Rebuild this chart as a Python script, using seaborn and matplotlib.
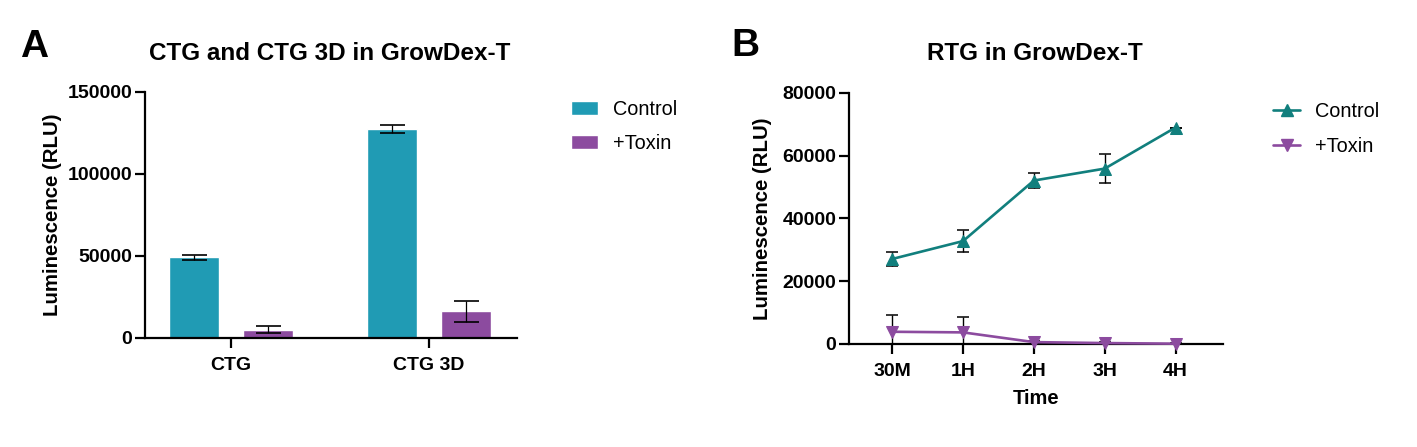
import numpy as np
import pandas as pd
import matplotlib.pyplot as plt
import seaborn as sns
from matplotlib.patches import Patch
from matplotlib.lines import Line2D

sns.set_theme(style='ticks')
plt.rcParams['font.family'] = ['Liberation Sans', 'DejaVu Sans']
plt.rcParams['text.color'] = 'black'
plt.rcParams['axes.labelcolor'] = 'black'

W, H = 1417, 447

# panel A values
assays = ['CTG', 'CTG 3D']
ctrl_vals = [49300, 127300]
ctrl_err = [1500, 2600]
tox_vals = [5000, 16200]
tox_err = [2100, 6500]

# panel B values
times = ['30M', '1H', '2H', '3H', '4H']
rtg_ctrl = [27100, 32800, 52100, 55900, 69000]
rtg_ctrl_err = [2300, 3500, 2300, 4500, 0]
rtg_tox = [3900, 3700, 600, 300, 100]
rtg_tox_err = [5300, 5000, 500, 300, 100]

groups = ['Control', '+Toxin']
bar_colors = ['#209bb4', '#8c4b9f']
line_colors = ['#117f7d', '#8c4b9f']


def px_axes(fig, left, right, top, bottom):
    return fig.add_axes([left / W, 1 - bottom / H, (right - left) / W, (bottom - top) / H])


def style_axes(ax):
    sns.despine(ax=ax)
    for side in ['left', 'bottom']:
        ax.spines[side].set_linewidth(1.6)
        ax.spines[side].set_color('black')
    ax.tick_params(axis='both', width=1.6, length=7.5, labelsize=14, colors='black', pad=1.5)
    ax.tick_params(axis='x', pad=6)
    for lab in ax.get_xticklabels() + ax.get_yticklabels():
        lab.set_fontweight('bold')


fig = plt.figure(figsize=(W / 100, H / 100), dpi=100)

# A: bars
ax1 = px_axes(fig, 145, 517, 92, 338)
df_a = pd.DataFrame({
    'assay': assays * 2,
    'group': [groups[0]] * 2 + [groups[1]] * 2,
    'rlu': ctrl_vals + tox_vals,
})
sns.barplot(data=df_a, x='assay', y='rlu', hue='group', palette=bar_colors, order=assays,
            hue_order=groups, width=0.75, gap=0.335, errorbar=None, saturation=1, legend=False, ax=ax1)
for cont, vals, errs in zip(ax1.containers, [ctrl_vals, tox_vals], [ctrl_err, tox_err]):
    xs = [b.get_x() + b.get_width() / 2 for b in cont]
    ax1.errorbar(xs, vals, yerr=errs, fmt='none', ecolor='black', elinewidth=0.9, capsize=9, capthick=1.2, zorder=5)
ax1.set_xlim(-0.434, 1.444)
ax1.set_ylim(0, 150000)
ax1.set_yticks([0, 50000, 100000, 150000])
ax1.set_xlabel('')
ax1.set_ylabel('Luminescence (RLU)', fontsize=14.7, fontweight='bold', labelpad=4)
style_axes(ax1)
ax1.spines['bottom'].set_zorder(6)
handles = [Patch(facecolor=c, label=g) for c, g in zip(bar_colors, groups)]
fig.legend(handles=handles, loc='upper left', bbox_to_anchor=(571 / W, 1 - 100 / H), frameon=False,
           fontsize=14.3, handlelength=1.36, handleheight=0.65, handletextpad=0.75, labelspacing=0.75,
           borderpad=0, borderaxespad=0)

# B: lines
ax2 = px_axes(fig, 849, 1223, 93, 344)
idx = list(range(len(times)))
df_b = pd.DataFrame({
    'time': idx * 2,
    'group': [groups[0]] * 5 + [groups[1]] * 5,
    'rlu': rtg_ctrl + rtg_tox,
})
for g, v, e, c, m in zip(groups, [rtg_ctrl, rtg_tox], [rtg_ctrl_err, rtg_tox_err], line_colors, ['^', 'v']):
    ax2.errorbar(idx, v, yerr=e, fmt='none', ecolor='black', elinewidth=1.0, capsize=4, capthick=1.1, zorder=2)
    sns.lineplot(data=df_b[df_b['group'] == g], x='time', y='rlu', color=c, marker=m, markersize=8,
                 markeredgecolor=c, linewidth=1.9, errorbar=None, clip_on=False, zorder=3, ax=ax2)
ax2.set_xlim(-0.61, 4.67)
ax2.set_ylim(0, 80000)
ax2.set_yticks([0, 20000, 40000, 60000, 80000])
ax2.set_xticks(idx)
ax2.set_xticklabels(times)
ax2.set_xlabel('Time', fontsize=14.5, fontweight='bold', labelpad=7)
ax2.set_ylabel('Luminescence (RLU)', fontsize=14.7, fontweight='bold', labelpad=8)
style_axes(ax2)
line_handles = [Line2D([0], [0], color=c, marker=m, markersize=8, linewidth=1.9, label=g)
                for c, m, g in zip(line_colors, ['^', 'v'], groups)]
fig.legend(handles=line_handles, loc='upper left', bbox_to_anchor=(1273 / W, 1 - 102 / H), frameon=False,
           fontsize=14.3, handlelength=1.36, handletextpad=0.75, labelspacing=0.8,
           borderpad=0, borderaxespad=0)

# titles and panel letters
fig.text(330 / W, 1 - 53 / H, 'CTG and CTG 3D in GrowDex-T', ha='center', va='center', fontsize=17.5, fontweight='bold')
fig.text(1035 / W, 1 - 54 / H, 'RTG in GrowDex-T', ha='center', va='center', fontsize=17.5, fontweight='bold')
fig.text(20 / W, 1 - 47 / H, 'A', ha='left', va='center', fontsize=28, fontweight='bold')
fig.text(731 / W, 1 - 46 / H, 'B', ha='left', va='center', fontsize=28, fontweight='bold')

fig.savefig('out.png', dpi=100)
